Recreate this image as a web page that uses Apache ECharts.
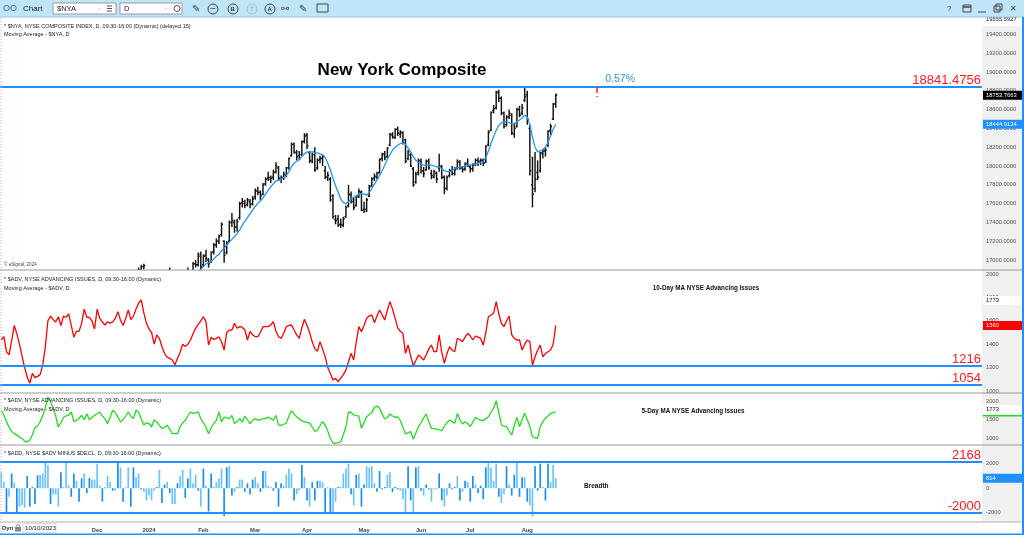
<!DOCTYPE html>
<html><head><meta charset="utf-8">
<script src="https://cdn.jsdelivr.net/npm/echarts@6/dist/echarts.min.js"></script>
<style>html,body{margin:0;padding:0;background:#fff;overflow:hidden}#c{width:1024px;height:535px}</style>
</head><body><div id="c"></div>
<script>
// ---------- DATA ----------
const opens=[15480,15560,15600,15420,15380,15450,15480,15320,15160,14970,
15000,15040,14860,14760,14680,14810,14920,15100,15380,15480,
15440,15420,15400,15300,15460,15600,15790,15880,15860,15920,
15970,15950,16000,16000,15980,16030,16040,16200,16320,16320,
16260,16220,16310,16360,16440,16500,16780,16860,16800,16840,
16850,16720,16820,16870,16890,16930,16880,16850,16700,16660,
16690,16720,16800,16730,16780,16760,16800,16640,16540,16650,
16810,16860,16870,16880,16850,16960,16950,17060,16950,17050,
17000,16980,17090,17160,17200,17270,17200,17080,17200,17400,
17400,17350,17450,17610,17600,17590,17620,17600,17670,17730,
17720,17700,17810,17870,17860,17880,17940,17980,17860,17880,
17900,17980,18110,18230,18140,18110,18120,18260,18330,18140,
18050,18150,17980,18070,18080,17950,17880,17860,17680,17430,
17440,17380,17370,17460,17580,17690,17620,17580,17680,17720,
17540,17540,17680,17790,17870,17880,17930,18080,18130,18100,
18220,18330,18300,18390,18340,18350,18280,18080,18120,17970,
17830,17930,18050,17950,17960,18050,17920,17880,17920,17980,
17990,17880,17760,17900,17950,17920,17980,18040,17980,17970,
18030,17990,17970,18020,18060,18050,18060,18040,18230,18380,
18590,18620,18780,18720,18560,18440,18520,18540,18340,18420,
18600,18560,18700,18760,18400,17800,17760,17930,17950,18130,
18160,18220,18380,18500,18660];
const highs=[15600,15620,15640,15460,15520,15560,15500,15380,15200,15060,
15100,15060,14900,14800,14830,14920,15080,15360,15520,15500,
15480,15460,15420,15470,15480,15800,15900,15900,15950,16000,
15990,16020,16040,16020,16040,16080,16190,16380,16360,16340,
16300,16320,16390,16450,16510,16760,16880,16870,16860,16880,
16860,16830,16870,16920,16950,16960,16890,16880,16760,16740,
16760,16840,16820,16800,16820,16920,16830,16660,16660,16810,
16880,16890,16920,16890,16980,17000,17080,17090,17060,17110,
17020,17090,17180,17230,17270,17400,17210,17200,17420,17500,
17430,17440,17620,17660,17640,17660,17650,17680,17760,17780,
17740,17820,17880,17940,17900,17960,18040,18000,17900,17940,
17990,18090,18250,18250,18170,18160,18270,18350,18350,18160,
18140,18200,18080,18110,18120,18000,17940,17880,17700,17480,
17480,17440,17460,17580,17800,17730,17660,17690,17760,17740,
17620,17660,17800,17880,17920,17940,18080,18140,18160,18200,
18350,18360,18400,18420,18380,18370,18290,18170,18140,17990,
17940,18080,18080,17990,18070,18080,17960,17960,17940,18130,
18010,17900,17900,17970,18000,17990,18070,18060,18000,18040,
18080,18010,18030,18080,18090,18080,18080,18220,18380,18580,
18650,18800,18810,18740,18580,18540,18600,18560,18460,18620,
18640,18660,18841,18800,18440,18100,18150,18060,18150,18180,
18200,18380,18450,18670,18770];
const lows=[15420,15480,15360,15280,15360,15420,15270,15140,14960,14860,
14960,14830,14700,14590,14660,14780,14880,15080,15360,15390,
15370,15340,15220,15280,15390,15580,15760,15800,15840,15880,
15890,15930,15980,15940,15960,15990,16000,16180,16280,16200,
16180,16200,16280,16330,16400,16460,16740,16760,16780,16820,
16680,16700,16790,16840,16870,16900,16800,16700,16620,16640,
16660,16700,16700,16700,16700,16740,16620,16500,16520,16640,
16790,16800,16820,16780,16830,16920,16930,16900,16930,16980,
16920,16970,17060,17130,17170,17250,16970,17060,17190,17350,
17290,17300,17430,17560,17550,17570,17550,17580,17640,17690,
17640,17690,17790,17840,17820,17850,17920,17840,17820,17850,
17880,17960,18100,18130,18060,18060,18110,18240,18180,18030,
18030,17940,17960,18030,18000,17860,17840,17620,17440,17380,
17350,17340,17350,17450,17560,17600,17530,17570,17660,17520,
17500,17510,17670,17780,17840,17860,17920,18050,18060,18090,
18210,18290,18290,18320,18300,18230,18030,18060,17990,17780,
17810,17900,17920,17880,17950,17960,17860,17870,17820,17940,
17860,17700,17740,17880,17900,17900,17960,17960,17930,17950,
17990,17930,17940,18000,18000,18010,18000,18030,18210,18370,
18560,18600,18680,18540,18400,18420,18500,18330,18300,18410,
18520,18540,18680,18440,17900,17560,17720,17850,17930,18080,
18100,18200,18330,18490,18620];
const closes=[15560,15550,15400,15350,15480,15500,15300,15180,14990,14950,
15050,14850,14720,14620,14800,14900,15050,15350,15500,15430,
15430,15380,15260,15450,15440,15780,15880,15850,15930,15980,
15930,15990,16020,15990,16000,16020,16180,16360,16330,16230,
16200,16300,16370,16440,16500,16750,16860,16820,16840,16860,
16700,16810,16860,16890,16930,16940,16830,16720,16650,16680,
16720,16830,16720,16790,16740,16860,16650,16530,16640,16800,
16870,16850,16860,16840,16960,16950,17040,16930,17040,17020,
16960,17080,17160,17200,17250,17380,17050,17180,17400,17420,
17350,17410,17600,17620,17580,17640,17590,17650,17740,17720,
17680,17800,17860,17880,17870,17930,18000,17870,17870,17910,
17980,18080,18230,18150,18100,18080,18260,18320,18210,18060,
18120,17960,18060,18080,18100,17880,17900,17640,17460,17420,
17370,17380,17440,17560,17700,17640,17560,17670,17730,17530,
17520,17640,17780,17860,17890,17920,18070,18120,18090,18190,
18340,18310,18390,18350,18360,18250,18050,18150,18000,17800,
17910,18060,17950,17920,18050,17980,17900,17940,17860,18000,
17880,17760,17880,17950,17920,17960,18050,17980,17960,18010,
18000,17970,18010,18060,18040,18060,18030,18210,18360,18570,
18610,18790,18720,18560,18420,18520,18560,18350,18400,18600,
18540,18620,18740,18500,17950,17700,17860,17880,18140,18160,
18170,18370,18420,18660,18753.7663];
const nyaMA=[15500,15510,15500,15480,15470,15470,15450,15420,15380,15330,
15280,15210,15140,15070,15010,14950,14920,14940,14990,15040,
15090,15150,15210,15280,15340,15390,15450,15500,15540,15590,
15650,15710,15770,15820,15870,15920,15960,16000,16050,16080,
16110,16140,16170,16210,16240,16290,16350,16410,16480,16550,
16600,16650,16690,16740,16780,16810,16830,16830,16820,16800,
16790,16780,16770,16760,16750,16750,16740,16730,16730,16740,
16740,16750,16760,16770,16800,16830,16870,16900,16930,16960,
16970,16990,17010,17040,17060,17100,17120,17160,17190,17220,
17250,17280,17320,17370,17410,17450,17490,17530,17570,17600,
17630,17660,17700,17740,17780,17810,17840,17850,17860,17880,
17900,17940,17990,18030,18050,18070,18100,18130,18150,18150,
18150,18140,18140,18130,18120,18090,18030,17960,17870,17790,
17720,17650,17610,17600,17620,17650,17670,17680,17700,17710,
17700,17690,17720,17760,17810,17850,17900,17950,18010,18070,
18120,18170,18200,18220,18240,18245,18230,18190,18150,18100,
18060,18040,18020,18010,18010,18010,18010,18000,17990,17990,
17970,17950,17940,17940,17950,17970,17980,17990,17990,18000,
18010,18010,18020,18020,18030,18040,18050,18090,18160,18240,
18310,18380,18430,18460,18470,18470,18460,18450,18450,18470,
18490,18510,18540,18520,18440,18310,18200,18150,18160,18170,
18200,18250,18320,18390,18444.9134];
const adv10=[1436,1464,1336,1308,1430,1560,1490,1400,1300,1200,
1120,1066,1150,1115,1125,1140,1222,1380,1600,1640,
1610,1590,1635,1560,1640,1630,1660,1560,1460,1510,
1510,1580,1700,1630,1630,1600,1530,1700,1620,1590,
1564,1590,1580,1590,1620,1678,1607,1560,1620,1692,
1610,1640,1700,1750,1778,1670,1580,1530,1500,1400,
1479,1450,1380,1320,1290,1279,1265,1222,1280,1330,
1400,1380,1400,1436,1490,1536,1570,1600,1635,1593,
1393,1460,1440,1450,1464,1421,1350,1500,1520,1521,
1579,1536,1550,1545,1521,1436,1510,1480,1464,1464,
1500,1550,1550,1550,1564,1593,1510,1464,1450,1493,
1550,1560,1564,1521,1480,1450,1540,1613,1560,1500,
1420,1360,1340,1421,1360,1293,1200,1150,1094,1108,
1080,1110,1140,1179,1250,1322,1265,1420,1550,1507,
1560,1621,1640,1650,1584,1640,1692,1650,1607,1690,
1764,1700,1620,1540,1510,1493,1322,1393,1300,1215,
1260,1308,1290,1265,1310,1360,1393,1336,1336,1479,
1330,1236,1320,1379,1350,1336,1450,1440,1421,1460,
1493,1470,1436,1470,1460,1450,1393,1500,1635,1650,
1664,1764,1660,1579,1550,1600,1641,1479,1450,1436,
1436,1350,1400,1436,1421,1222,1293,1350,1393,1293,
1320,1336,1350,1400,1560];
const adv5=[1752,1620,1450,1300,1190,1130,1090,1040,1000,930,
910,952,1100,1290,1340,1450,1610,1820,2107,1990,
1800,1600,1307,1420,1560,1600,1620,1707,1460,1480,
1540,1618,1500,1662,1500,1560,1618,1660,1707,1600,
1529,1395,1560,1752,1690,1573,1440,1500,1600,1707,
1600,1529,1760,1700,1529,1360,1420,1400,1307,1500,
1440,1352,1270,1300,1352,1250,1128,1128,1128,1320,
1420,1485,1600,1707,1670,1690,1707,1529,1420,1300,
1128,1290,1400,1485,1707,1440,1573,1550,1529,1618,
1400,1450,1529,1440,1600,1500,1395,1485,1529,1490,
1500,1529,1529,1570,1530,1485,1618,1360,1350,1380,
1410,1600,1741,1650,1581,1520,1470,1450,1430,1410,
1300,1190,1227,1340,1448,1360,1200,1000,880,870,
888,915,1100,1315,1700,1700,1627,1610,1600,1272,
1430,1581,1640,1690,1830,1867,1805,1650,1520,1560,
1653,1600,1565,1580,1480,1300,1120,1160,1181,980,
1150,1315,1420,1550,1653,1450,1272,1265,1253,1230,
1208,1320,1421,1493,1450,1405,1672,1500,1387,1448,
1400,1315,1440,1565,1520,1490,1475,1530,1581,1700,
1805,2008,1700,1360,1330,1315,1200,1093,1350,1565,
1315,1500,1672,1500,1315,1048,1020,1005,1315,1450,
1539,1600,1672,1690,1715];
const addValues=[1300,500,-1950,-700,1200,450,-1950,-1500,-1400,-1600,
1000,-1500,100,-1300,1050,1100,1200,2200,1900,-1300,
-500,-500,-1500,1300,100,2200,250,-700,1200,600,
-1100,800,1200,-400,850,700,700,2000,200,-1100,
50,1000,500,-200,-200,2200,1700,-1100,50,1700,
-1500,1700,900,1200,-100,-300,-1000,-600,-1000,-200,
100,1500,-1200,300,500,-400,-1300,-1300,400,1000,
1500,-800,800,1600,400,1100,-200,-1500,1600,200,
-1900,1200,100,500,800,1600,-2300,1700,1800,-600,
-300,100,700,700,-300,400,-500,700,900,400,
-300,1400,1400,200,100,-200,500,-1500,400,200,
1100,1600,1200,-1000,-500,-200,1900,900,-1000,-1500,
500,-1000,600,600,500,-2000,50,-2000,-2000,-1100,
100,150,1200,1600,2000,-500,-1400,1100,1200,-1500,
300,1800,1700,1800,400,-300,1400,-100,100,1100,
1300,-300,100,-100,-200,-900,-2000,1800,-1000,-2000,
1700,1800,-200,-600,300,-100,-1100,-100,-100,1200,
-1000,-1500,-600,400,-100,100,1000,-1000,-300,600,
500,-1100,1000,300,-400,200,-900,1700,2200,1700,
600,2000,-700,-1200,-500,1800,300,-600,1100,2100,
-700,900,900,-1100,-1400,-2300,1800,-200,2000,100,
-1000,2000,500,1900,814];
const nyaTicks=[17000,17200,17400,17600,17800,18000,18200,18400,18600,18800,19000,19200,19400];
const adv10Ticks=[1000,1200,1400,1600,1800,2000];
const adv5Ticks=[1000,1500,2000];
const addTicks=[-2000,0,2000];
const holidays=['2023-11-23','2023-12-25','2024-01-01','2024-01-15','2024-02-19','2024-03-29','2024-05-27','2024-06-19','2024-07-04','2024-09-02','2024-11-28','2024-12-25'];
const monthNames=['Jan','Feb','Mar','Apr','May','Jun','Jul','Aug','Sep','Oct','Nov','Dec'];
const nyaHigh=18841.4756, nyaLast=18753.7663, nyaMALast=18444.9134, nyaTop=19555.5927;
const advLines=[1216,1054], addLines=[2168,-2000];
const advBox=1773, adv10Last=1560, adv5Mark=1608, addLast=814;
const pctText='0.57%', pctLow=18734, pctIdx=230;

// ---------- BUILD ----------
const NCAT=379;
function buildDates(n){const out=[];let t=Date.UTC(2023,9,10);while(out.length<n){const d=new Date(t);const wd=d.getUTCDay();const s=d.toISOString().slice(0,10);if(wd!==0&&wd!==6&&holidays.indexOf(s)<0)out.push(s);t+=86400000;}return out;}
const dates=buildDates(NCAT);
const NDATA=closes.length;
const ohlc=closes.map((c,i)=>[i,opens[i],highs[i],lows[i],c]);
const FONT='Liberation Sans, Arial, sans-serif';
const BLUE='#1e90ff';

function refLine(v,txt){return {yAxis:v,lineStyle:{color:BLUE,width:2,type:'solid'},label:{show:true,position:'insideEndTop',formatter:txt,color:'#ff1a1a',fontSize:13,fontFamily:FONT,distance:[1,0]}};}
function box(v,txt,bg,fg){return {yAxis:v,lineStyle:{color:'rgba(0,0,0,0)',width:0},label:{show:true,position:'end',formatter:txt,backgroundColor:bg,color:fg,fontSize:5.8,fontFamily:FONT,padding:[2,2,1,3],width:36,align:'left',distance:1}};}
function yAx(idx,min,max,ticks,fmt){return {gridIndex:idx,type:'value',position:'right',min:min,max:max,scale:true,axisLine:{show:false},axisTick:{show:false},splitLine:{show:false},axisLabel:{customValues:ticks,formatter:fmt,fontSize:5.7,color:'#555',fontFamily:FONT,margin:4}};}
function xAx(idx,show){return {gridIndex:idx,type:'category',data:dates,boundaryGap:true,show:show,axisLine:{show:false},axisTick:{show:false},splitLine:{show:false},
  axisLabel:{show:show,interval:function(i){return i>0&&i<NDATA&&dates[i].slice(5,7)!==dates[i-1].slice(5,7);},
  formatter:function(v){const m=+v.slice(5,7);return m===1?v.slice(0,4):monthNames[m-1];},fontSize:5.8,fontWeight:'bold',color:'#444',fontFamily:FONT,margin:5}};}

const chart=echarts.init(document.getElementById('c'),null,{width:1024,height:535});
function T(x,y,text,size,extra){return Object.assign({type:'text',z:100,style:Object.assign({x:x,y:y,text:text,font:size+'px '+FONT,fill:'#222',verticalAlign:'middle'},extra||{})});}
function R(x,y,w,h,fill,stroke,z){return {type:'rect',z:z===undefined?1:z,shape:{x:x,y:y,width:w,height:h},style:{fill:fill,stroke:stroke||null,lineWidth:stroke?1:0}};}
function L(x1,y1,x2,y2,col,w,z){return {type:'line',z:z===undefined?50:z,shape:{x1:x1,y1:y1,x2:x2,y2:y2},style:{stroke:col,lineWidth:w||1}};}
function C(cx,cy,r,col){return {type:'circle',z:100,shape:{cx:cx,cy:cy,r:r},style:{fill:null,stroke:col,lineWidth:1}};}

const graphics=[
 R(982,17,40,505,'#f0f0f0',null,-5),
 R(982,17,40,9,'#ffffff',null,-4),
 R(0,0,1024,17,'#bfe5f8',null,90),
 L(0,17,1024,17,'#9cc8e0',1,91),
 T(3,9,'OO',9,{fill:'#4f6377'}),
 T(23,9,'Chart',8,{fill:'#222'}),
 R(53,3,63,11,'#fff','#9a9a9a',92),
 T(57,8.8,'$NYA',7.5,{fill:'#222'}),
 T(97,8.5,'⌵',7,{fill:'#555',font:'7px DejaVu Sans'}),
 L(107,6,112,6,'#555',1,100),L(107,8.5,112,8.5,'#555',1,100),L(107,11,112,11,'#555',1,100),
 R(120,3,62,11,'#fff','#9a9a9a',92),
 T(124,8.8,'D',7.5,{fill:'#222'}),
 T(163,8.5,'⌵',7,{fill:'#555',font:'7px DejaVu Sans'}),
 C(177,8.5,3,'#555'),
 T(192,9,'✎',10,{fill:'#444',font:'10px DejaVu Sans'}),
 C(213,9,5,'#444'),T(209.5,9,'∼',8,{fill:'#444',font:'8px DejaVu Sans'}),
 C(233,9,5,'#444'),T(230.5,9.3,'B',6,{fill:'#333',font:'bold 6px '+FONT}),
 C(252,9,5,'#b5b5b5'),T(250,9.3,'T',6,{fill:'#b5b5b5',font:'bold 6px '+FONT}),
 C(270,9,5,'#444'),T(267.6,9.3,'A',6,{fill:'#333',font:'bold 6px '+FONT}),
 T(281,9,'⚯',10,{fill:'#444',font:'10px DejaVu Sans'}),
 T(299,9,'✎',10,{fill:'#444',font:'10px DejaVu Sans'}),
 R(317,4,11,8,null,'#444',100),
 T(947,9,'?',8,{fill:'#444'}),
 R(963,5,8,7,null,'#444',100),L(963,7,971,7,'#444',1.5,100),
 L(978,12,986,12,'#444',1,100),
 R(994,6,6,6,null,'#444',100),R(996,4,6,6,null,'#444',100),
 T(1010,9,'✕',8,{fill:'#444',font:'8px DejaVu Sans'}),
 L(0,270,1022,270,'#9a9a9a',1),L(0,393,1022,393,'#9a9a9a',1),L(0,445,1022,445,'#9a9a9a',1),L(0,522,1022,522,'#b0b0b0',1),
 R(1022,17,2,518,BLUE,null,95),R(0,533.5,1024,1.5,BLUE,null,95),
 {type:'line',z:95,shape:{x1:1,y1:18,x2:1,y2:533},style:{stroke:'#f2a0a0',lineWidth:1,lineDash:[1,2]}},
 T(4,26.7,'* $NYA, NYSE COMPOSITE INDEX, D, 09:30-16:00 (Dynamic) (delayed 15)',5.5),
 T(4,34.7,'Moving Average - $NYA, D',5.5),
 T(4,264.5,'© eSignal, 2024',4.6,{fill:'#444'}),
 T(402,70,'New York Composite',17,{font:'bold 17px '+FONT,fill:'#000',align:'center'}),
 T(4,279,'* $ADV, NYSE ADVANCING ISSUES, D, 09:30-16:00 (Dynamic)',5.5),
 T(4,288.3,'Moving Average - $ADV, D',5.5),
 T(706,288,'10-Day MA NYSE Advancing Issues',6.3,{font:'bold 6.3px '+FONT,fill:'#111',align:'center'}),
 T(4,400.5,'* $ADV, NYSE ADVANCING ISSUES, D, 09:30-16:00 (Dynamic)',5.5),
 T(4,409,'Moving Average - $ADV, D',5.5),
 T(693,411,'5-Day MA NYSE Advancing Issues',6.3,{font:'bold 6.3px '+FONT,fill:'#111',align:'center'}),
 T(4,453,'* $ADD, NYSE $ADV MINUS $DECL, D, 09:30-16:00 (Dynamic)',5.5),
 T(584,486,'Breadth',6.5,{font:'bold 6.5px '+FONT,fill:'#111'}),
 T(2,528.5,'Dyn',6,{font:'bold 6px '+FONT,fill:'#333'}),
 R(15,527,6,4.5,'#888',null,100),C(18,526.5,1.8,'#888'),
 R(23,523.5,33,9,'#ffffff','#dddddd',99),
 T(25,528.3,'10/10/2023',6.2,{fill:'#222'})
];

const option={
 animation:false,
 backgroundColor:'#ffffff',
 grid:[
  {left:0,right:42,top:18,height:252},
  {left:0,right:42,top:270,height:123},
  {left:0,right:42,top:393,height:52},
  {left:0,right:42,top:445,height:77}
 ],
 xAxis:[xAx(0,false),xAx(1,false),xAx(2,false),xAx(3,true)],
 yAxis:[
  yAx(0,16894,19574,nyaTicks,v=>v.toFixed(4)),
  yAx(1,983,2034,adv10Ticks,v=>String(v)),
  yAx(2,827,2213,adv5Ticks,v=>String(v)),
  yAx(3,-2761,3529,addTicks,v=>String(v))
 ],
 series:[
  {type:'custom',name:'$NYA',xAxisIndex:0,yAxisIndex:0,clip:true,data:ohlc,encode:{x:0,y:[1,2,3,4]},z:3,
   renderItem:function(params,api){
     const x=api.value(0),o=api.value(1),h=api.value(2),l=api.value(3),c=api.value(4);
     const pH=api.coord([x,h]),pL=api.coord([x,l]),pO=api.coord([x,o]),pC=api.coord([x,c]);
     const w=api.size([1,0])[0]*0.55;
     const st={stroke:'#111111',lineWidth:1.45};
     return {type:'group',children:[
      {type:'line',shape:{x1:pH[0],y1:pH[1],x2:pL[0],y2:pL[1]},style:st},
      {type:'line',shape:{x1:pO[0]-w,y1:pO[1],x2:pO[0],y2:pO[1]},style:st},
      {type:'line',shape:{x1:pC[0],y1:pC[1],x2:pC[0]+w,y2:pC[1]},style:st}
     ]};
   }},
  {type:'line',name:'MA',xAxisIndex:0,yAxisIndex:0,data:nyaMA,showSymbol:false,clip:true,z:4,lineStyle:{color:'#2196f3',width:1.3}},
  {type:'line',name:'marks1',xAxisIndex:0,yAxisIndex:0,data:[],clip:false,z:6,
   markLine:{silent:true,symbol:['none','none'],animation:false,data:[
     refLine(nyaHigh,String(nyaHigh)),
     box(nyaLast,nyaLast.toFixed(4),'#000000','#ffffff'),
     box(nyaMALast,nyaMALast.toFixed(4),'#1e90ff','#ffffff'),
     box(nyaTop,nyaTop.toFixed(4),'#ffffff','#111111'),
     [{coord:[dates[pctIdx],nyaHigh],lineStyle:{color:'#ff2020',width:1.5},label:{show:false}},{coord:[dates[pctIdx],pctLow]}]
   ]},
   markPoint:{silent:true,symbol:'circle',symbolSize:0,data:[{coord:[dates[pctIdx],nyaHigh],label:{show:true,formatter:pctText,position:'right',offset:[3,-8],color:'#3c8fe0',fontSize:10.5,fontFamily:FONT}}]}},
  {type:'line',name:'ADV10',xAxisIndex:1,yAxisIndex:1,data:adv10,showSymbol:false,clip:true,z:4,lineStyle:{color:'#ff0000',width:1.3}},
  {type:'line',name:'marks2',xAxisIndex:1,yAxisIndex:1,data:[],clip:false,z:6,
   markLine:{silent:true,symbol:['none','none'],animation:false,data:[
     refLine(advLines[0],String(advLines[0])),refLine(advLines[1],String(advLines[1])),
     box(advBox,String(advBox),'#ffffff','#111111'),
     box(adv10Last,String(adv10Last),'#ff0000','#ffffff')
   ]}},
  {type:'line',name:'ADV5',xAxisIndex:2,yAxisIndex:2,data:adv5,showSymbol:false,clip:true,z:4,lineStyle:{color:'#22dd22',width:1.3}},
  {type:'line',name:'marks3',xAxisIndex:2,yAxisIndex:2,data:[],clip:false,z:6,
   markLine:{silent:true,symbol:['none','none'],animation:false,data:[
     box(advBox,String(advBox),'#ffffff','#111111'),
     {yAxis:adv5Mark,lineStyle:{color:'rgba(0,0,0,0)',width:0},label:{show:true,position:'end',formatter:'{a|}',distance:1,align:'left',rich:{a:{width:40,height:1.5,backgroundColor:'#22dd22'}},padding:0}}
   ]}},
  {type:'bar',name:'ADD',xAxisIndex:3,yAxisIndex:3,data:addValues,barWidth:1.7,z:4,
   itemStyle:{color:function(p){const i=p.dataIndex;const prev=i>0?addValues[i-1]:addValues[i];return (prev>=0)!==(addValues[i]>=0)?'#1a8ff0':'#6cc3fa';}}},
  {type:'line',name:'marks4',xAxisIndex:3,yAxisIndex:3,data:[],clip:false,z:6,
   markLine:{silent:true,symbol:['none','none'],animation:false,data:[
     refLine(addLines[0],String(addLines[0])),refLine(addLines[1],String(addLines[1])),
     box(addLast,String(addLast),'#1e90ff','#ffffff')
   ]}}
 ],
 graphic:graphics
};
chart.setOption(option);
</script></body></html>
